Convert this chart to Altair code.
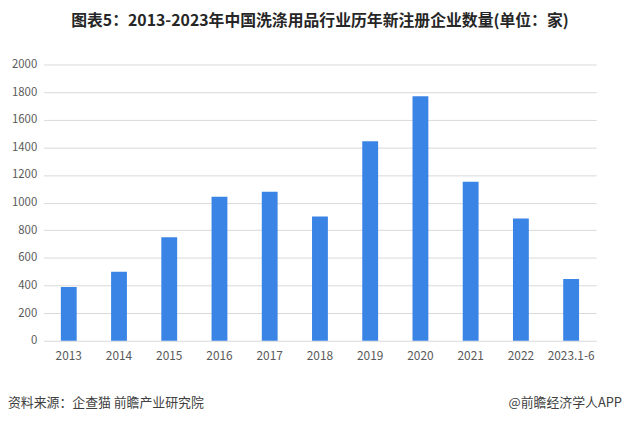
import altair as alt
import pandas as pd

years = ["2013", "2014", "2015", "2016", "2017", "2018", "2019", "2020", "2021", "2022", "2023.1-6"]
counts = [390, 500, 750, 1043, 1079, 900, 1445, 1770, 1151, 885, 447]

title_text = "图表5：2013-2023年中国洗涤用品行业历年新注册企业数量(单位：家)"
source_text = "资料来源：企查猫 前瞻产业研究院"
brand_text = "@前瞻经济学人APP"

df = pd.DataFrame({"year": years, "count": counts})
FONT = "Noto Sans CJK SC"

bars = alt.Chart(df).mark_bar(size=16, color="#3a84e6").encode(
    x=alt.X("year:N", sort=years, title=None,
            scale=alt.Scale(paddingInner=0, paddingOuter=0),
            axis=alt.Axis(labelAngle=0, domain=False, ticks=False, labelPadding=10,
                          labelFont=FONT, labelFontSize=12, labelColor="#595959")),
    y=alt.Y("count:Q", title=None,
            scale=alt.Scale(domain=[0, 2000]),
            axis=alt.Axis(values=list(range(0, 2001, 200)), format="d", domain=False, ticks=False,
                          labelPadding=7, gridColor="#d9d9d9", gridWidth=1,
                          labelFont=FONT, labelFontSize=11.5, labelColor="#595959")),
)

src = alt.Chart(pd.DataFrame({"t": [source_text]})).mark_text(
    align="left", baseline="middle", font=FONT, fontSize=13, color="#404040"
).encode(text="t:N", x=alt.value(-36), y=alt.value(342))

brand = alt.Chart(pd.DataFrame({"t": [brand_text]})).mark_text(
    align="right", baseline="middle", font=FONT, fontSize=13, color="#404040"
).encode(text="t:N", x=alt.value(584), y=alt.value(342))

chart = alt.layer(bars, src, brand).properties(
    width=558, height=279,
    title=alt.Title(title_text, anchor="middle", offset=30, font=FONT, fontSize=16,
                    fontWeight="bold", color="#262626"),
    autosize=alt.AutoSizeParams(type="none"),
    padding={"left": 36, "top": 55, "right": 26, "bottom": 80},
).configure_view(stroke=None)

chart.save("out.html", embed_options={"renderer": "svg", "actions": False})
